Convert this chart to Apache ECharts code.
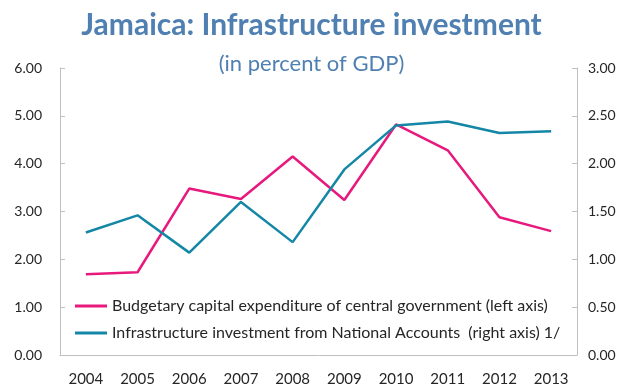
<!DOCTYPE html>
<html>
<head>
<meta charset="utf-8">
<script src="https://cdn.jsdelivr.net/npm/echarts@6/dist/echarts.min.js"></script>
<style>
  html, body { margin: 0; padding: 0; background: #fff; }
  #chart { width: 623px; height: 387px; }
</style>
</head>
<body>
<div id="chart"></div>
<script>
// Years on the horizontal axis
const years = ['2004', '2005', '2006', '2007', '2008', '2009', '2010', '2011', '2012', '2013'];

// Budgetary capital expenditure of central government, % of GDP (left axis)
const budgetaryCapex = [1.69, 1.73, 3.48, 3.26, 4.15, 3.24, 4.82, 4.28, 2.88, 2.59];

// Infrastructure investment from National Accounts, % of GDP (right axis)
const infraInvestment = [1.28, 1.46, 1.07, 1.60, 1.18, 1.94, 2.40, 2.44, 2.32, 2.34];

const seriesNames = [
  'Budgetary capital expenditure of central government (left axis)',
  'Infrastructure investment from National Accounts  (right axis) 1/'
];

const FONT = 'Lato, "Open Sans", "Noto Sans", sans-serif';
const axisGray = '#bfbfbf';
const labelColor = '#262626';
const titleBlue = '#4f80b1';

const chart = echarts.init(document.getElementById('chart'), null, { renderer: 'canvas' });

chart.setOption({
  animation: false,
  backgroundColor: '#ffffff',
  title: [
    {
      text: 'Jamaica: Infrastructure investment',
      left: 'center',
      top: 5,
      textStyle: { fontFamily: FONT, fontSize: 30, fontWeight: 'bold', color: titleBlue }
    },
    {
      text: '(in percent of GDP)',
      left: 'center',
      top: 48,
      textStyle: { fontFamily: FONT, fontSize: 22, fontWeight: 'normal', color: titleBlue }
    }
  ],
  grid: { left: 60, right: 46, top: 68, bottom: 32, containLabel: false },
  legend: {
    orient: 'vertical',
    left: 70,
    top: 293,
    itemWidth: 32,
    itemHeight: 3,
    itemGap: 11,
    icon: 'rect',
    data: seriesNames,
    textStyle: { fontFamily: FONT, fontSize: 16, color: labelColor }
  },
  xAxis: {
    type: 'category',
    data: years,
    boundaryGap: true,
    axisLine: { lineStyle: { color: axisGray, width: 1 } },
    axisTick: { inside: true, length: 5, lineStyle: { color: axisGray } },
    axisLabel: { fontFamily: FONT, fontSize: 15, color: labelColor, margin: 17 },
    splitLine: { show: false }
  },
  yAxis: [
    {
      type: 'value',
      min: 0, max: 6, interval: 1,
      position: 'left',
      axisLine: { show: true, lineStyle: { color: axisGray } },
      axisTick: { show: true, inside: true, length: 5, lineStyle: { color: axisGray } },
      axisLabel: { fontFamily: FONT, fontSize: 14, color: labelColor, margin: 18,
        formatter: v => v.toFixed(2) },
      splitLine: { show: false }
    },
    {
      type: 'value',
      min: 0, max: 3, interval: 0.5,
      position: 'right',
      axisLine: { show: true, lineStyle: { color: axisGray } },
      axisTick: { show: true, inside: true, length: 5, lineStyle: { color: axisGray } },
      axisLabel: { fontFamily: FONT, fontSize: 14, color: labelColor, margin: 11,
        formatter: v => v.toFixed(2) },
      splitLine: { show: false }
    }
  ],
  series: [
    {
      name: seriesNames[0],
      type: 'line',
      yAxisIndex: 0,
      data: budgetaryCapex,
      symbol: 'none',
      lineStyle: { color: '#e8197d', width: 2.5 },
      itemStyle: { color: '#e8197d' }
    },
    {
      name: seriesNames[1],
      type: 'line',
      yAxisIndex: 1,
      data: infraInvestment,
      symbol: 'none',
      lineStyle: { color: '#1486a6', width: 2.5 },
      itemStyle: { color: '#1486a6' }
    }
  ]
});
</script>
</body>
</html>
